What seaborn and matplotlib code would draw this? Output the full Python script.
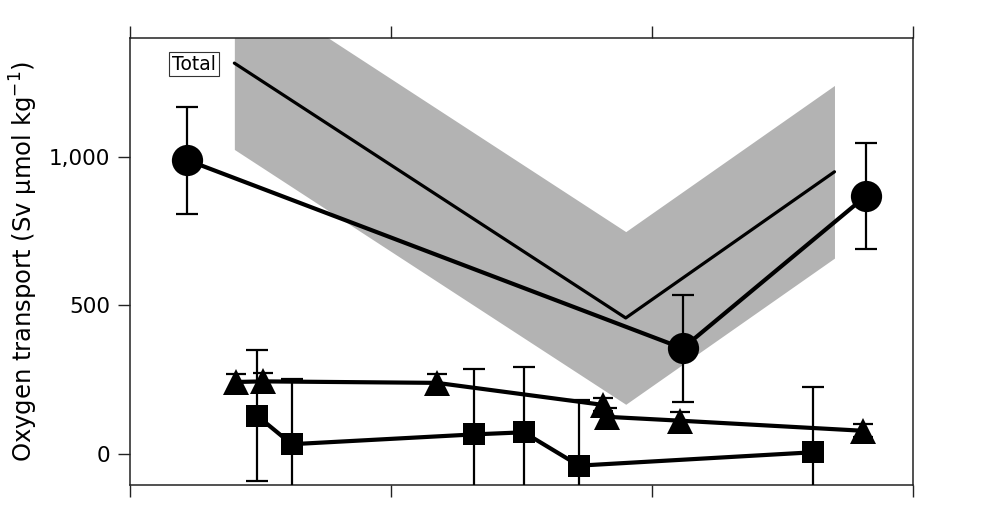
import numpy as np
import pandas as pd
import matplotlib
matplotlib.use("Agg")
import matplotlib.pyplot as plt
import seaborn as sns

# ---- data ----
total_x = [0.22, 2.118, 2.821]
total_y = [988, 356, 868]
total_err = [180, 180, 179]

model_x = [0.40, 1.90, 2.70]
model_y = [1314, 458, 949]
model_halfwidth = [290, 290, 290]

tri_x = [0.408, 0.508, 1.176, 1.813, 1.828, 2.108, 2.811]
tri_y = [243, 245, 240, 166, 126, 113, 79]
tri_err = [27, 27, 30, 22, 28, 28, 22]

sq_x = [0.488, 0.620, 1.320, 1.509, 1.721, 2.619]
sq_y = [129, 34, 67, 74, -38, 7]
sq_err = [220, 220, 220, 220, 220, 220]

ytick_vals = [0, 500, 1000]
ytick_labels = ["0", "500", "1,000"]
xtick_vals = [0, 1, 2, 3]

sns.set_theme(style="white")
plt.rcParams['font.family'] = ['DejaVu Sans']
plt.rcParams['text.color'] = 'black'
plt.rcParams['axes.labelcolor'] = 'black'
plt.rcParams['ytick.color'] = 'black'
plt.rcParams['xtick.color'] = 'black'

fig = plt.figure(figsize=(9.84, 5.11), dpi=100)
ax = fig.add_axes([0.1321, 0.0509, 0.7955, 0.8757])

# model band + line
mx = np.array(model_x)
my = np.array(model_y)
mh = np.array(model_halfwidth)
ax.fill_between(mx, my - mh, my + mh, color="#b3b3b3", linewidth=0, zorder=1)
sns.lineplot(x=model_x, y=model_y, color="black", linewidth=2.3, ax=ax,
             estimator=None, sort=False, zorder=2)

# error bars
ekw = dict(fmt="none", ecolor="black", elinewidth=1.6, capthick=1.6, zorder=3)
ax.errorbar(total_x, total_y, yerr=total_err, capsize=8, **ekw)
ax.errorbar(sq_x, sq_y, yerr=sq_err, capsize=8, **ekw)
ax.errorbar(tri_x, tri_y, yerr=tri_err, capsize=7.5, **ekw)

# series lines with markers
sns.lineplot(x=sq_x, y=sq_y, color="black", linewidth=3, marker="s",
             markersize=16.5, markeredgecolor="black", markeredgewidth=0,
             ax=ax, estimator=None, sort=False, zorder=4)
sns.lineplot(x=tri_x, y=tri_y, color="black", linewidth=3, marker="^",
             markersize=18.5, markeredgecolor="black", markeredgewidth=0,
             ax=ax, estimator=None, sort=False, zorder=4)
sns.lineplot(x=total_x, y=total_y, color="black", linewidth=3, marker="o",
             markersize=22.5, markeredgecolor="black", markeredgewidth=0,
             ax=ax, estimator=None, sort=False, zorder=5)

ax.set_xlim(0, 3)
ax.set_ylim(-103, 1400)

ax.set_xticks(xtick_vals)
ax.set_xticklabels([])
ax.set_yticks(ytick_vals)
ax.set_yticklabels(ytick_labels)
ax.tick_params(axis="x", which="both", direction="out", length=8.5, width=1.0,
               top=True, bottom=True, labelbottom=False, labeltop=False,
               color="#222222")
ax.tick_params(axis="y", which="both", direction="out", length=8.5, width=1.0,
               left=True, right=False, labelsize=15.5, color="#222222", pad=6,
               labelcolor="black")

for s in ax.spines.values():
    s.set_linewidth(1.1)
    s.set_color("#222222")

ax.set_ylabel("Oxygen transport (Sv µmol kg$^{-1}$)", fontsize=17.5, labelpad=6)

ax.text(0.245, 1311, "Total", fontsize=13.5, ha="center", va="center",
        color="black",
        bbox=dict(boxstyle="square,pad=0.15", facecolor="white",
                  edgecolor="#333333", linewidth=0.8), zorder=6)

ax.grid(False)
fig.savefig("out.png", dpi=100)
